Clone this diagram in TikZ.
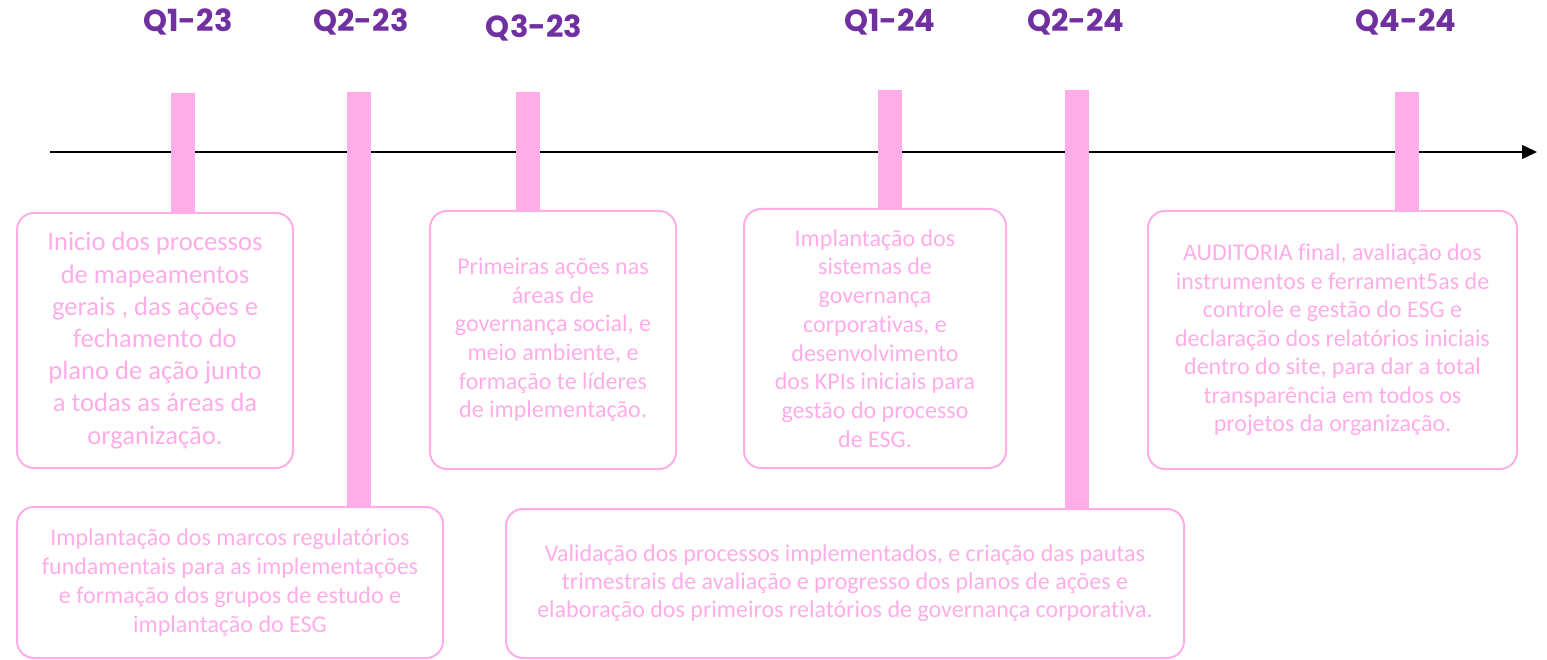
\documentclass[tikz,border=0pt]{standalone}
\usepackage{fontspec}
\setmainfont{Carlito}[Ligatures=CommonOff]
\newfontfamily\qfont{Poppins}
\usepackage{xcolor}
\usepackage{tikz}
\usetikzlibrary{arrows.meta}
\usetikzlibrary{calc}
\definecolor{esgpink}{RGB}{255,173,232}
\definecolor{qpurple}{RGB}{112,48,160}
\tikzstyle{arrow} = [line width=1.3pt,-{Triangle[length=15pt,width=14pt]}]
\tikzstyle{bar} = [draw=esgpink,line width=24pt]
\tikzstyle{box} = [draw=esgpink,line width=2pt,rounded corners=17pt,text=esgpink,align=center,inner sep=0pt,outer sep=0pt,fill=white]
\tikzstyle{quarter} = [text=qpurple,font=\qfont\bfseries\fontsize{30.5}{32}\selectfont]

\begin{document}
\begin{tikzpicture}[x=1pt,y=-1pt]
			\useasboundingbox (0,0) rectangle (1547,660);
			% quarters
			\node[quarter] (q1) at (188,22) {Q1-23};
			\node[quarter] (q2) at (361,22) {Q2-23};
			\node[quarter] (q3) at (534,28) {Q3-23};
			\node[quarter] (q5) at (890,22) {Q1-24};
			\node[quarter] (q6) at (1076,22) {Q2-24};
			\node[quarter] (q8) at (1406,22) {Q4-24};
			% timeline
			\coordinate (start) at (50,152);
			\coordinate (end) at (1537,152);
			\draw [arrow] (start) -- (end);
			% boxes
			\node[box,minimum width=276pt,minimum height=255pt,font=\fontsize{26.6}{32.2}\selectfont] (b1) at (155,340.5) {Inicio dos processos\\de mapeamentos\\gerais , das ações e\\fechamento do\\plano de ação junto\\a todas as áreas da\\organização.};
			\node[box,minimum width=426pt,minimum height=151pt,font=\fontsize{24}{29}\selectfont] (b2) at (230,582.5) {Implantação dos marcos regulatórios\\fundamentais para as implementações\\e formação dos grupos de estudo e\\implantação do ESG};
			\node[box,minimum width=246pt,minimum height=258pt,font=\fontsize{24}{28.6}\selectfont] (b3) at (553,340) {Primeiras ações nas\\áreas de\\governança social, e\\meio ambiente, e\\formação te líderes\\de implementação.};
			\node[box,minimum width=262pt,minimum height=259pt,font=\fontsize{24}{28.7}\selectfont] (b5) at (875,338.5) {Implantação dos\\sistemas de\\governança\\corporativas, e\\desenvolvimento\\dos KPIs iniciais para\\gestão do processo\\de ESG.};
			\node[box,minimum width=678pt,minimum height=149pt,font=\fontsize{24}{28.2}\selectfont] (b6) at (845,583.5) {Validação dos processos implementados, e criação das pautas\\trimestrais de avaliação e progresso dos planos de ações e\\elaboração dos primeiros relatórios de governança corporativa.};
			\node[box,minimum width=369pt,minimum height=258pt,font=\fontsize{24}{28.5}\selectfont] (b8) at (1332.5,340) {AUDITORIA final, avaliação dos\\instrumentos e ferrament5as de\\controle e gestão do ESG e\\declaração dos relatórios iniciais\\dentro do site, para dar a total\\transparência em todos os\\projetos da organização.};
			% bars
			\coordinate (t1) at (183,93);
			\coordinate (t2) at (359,92);
			\coordinate (t3) at (528,92);
			\coordinate (t5) at (890,90);
			\coordinate (t6) at (1076.5,90);
			\coordinate (t8) at (1406.5,92);
			\draw [bar] (t1) -- (t1 |- b1.north);
			\draw [bar] (t2) -- (t2 |- b2.north);
			\draw [bar] (t3) -- (t3 |- b3.north);
			\draw [bar] (t5) -- (t5 |- b5.north);
			\draw [bar] (t6) -- (t6 |- b6.north);
			\draw [bar] (t8) -- (t8 |- b8.north);
			
		\end{tikzpicture}
\end{document}
